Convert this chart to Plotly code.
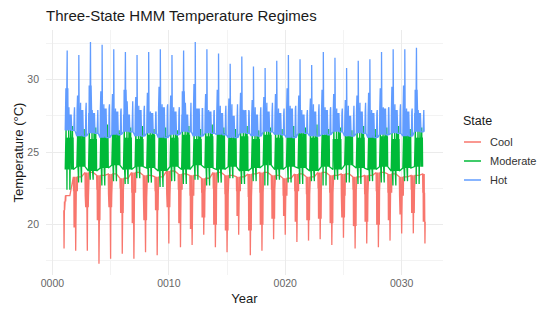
import plotly.graph_objects as go

# ---- data: yearly levels of each regime (°C) ----
# full years carrying a hot-season peak
hot_years = list(range(1, 32))
hot_peak = [32.0, 31.7, 32.6, 32.4, 32.1, 31.9, 31.7, 31.9, 32.1, 31.7, 32.0, 32.6, 32.1, 31.8, 31.1, 31.6,
            30.9, 30.8, 31.3, 31.7, 31.4, 31.0, 31.9, 31.5, 30.8, 31.3, 31.4, 31.9, 32.1, 32.1, 32.2]
hot_upper = [29.4, 28.9, 29.6, 29.2, 29.0, 29.3, 28.8, 29.1, 29.5, 28.9, 29.2, 29.7, 29.0, 29.3, 28.7, 29.1,
             28.6, 28.8, 29.0, 29.4, 28.9, 28.7, 29.3, 29.0, 28.6, 28.9, 29.1, 29.4, 29.5, 29.6, 29.3]
hot_mid = [27.6, 27.9, 27.7, 28.0, 27.8, 27.6, 27.9, 27.7, 28.1, 27.8, 27.6, 28.0, 27.8, 27.7, 27.5, 27.9,
           27.6, 27.8, 27.7, 28.0, 27.6, 27.8, 27.9, 27.7, 27.5, 27.8, 27.7, 28.0, 27.9, 27.8, 27.7]
hot_base = [26.5, 26.1, 26.3, 26.0, 26.2, 26.4, 26.1, 26.3, 26.0, 26.2, 26.4, 26.1, 26.3, 26.2, 26.0, 26.3,
            26.1, 26.4, 26.2, 26.0, 26.3, 26.1, 26.2, 26.4, 26.1, 26.3, 26.0, 26.2, 26.3, 26.1, 26.4]
hot_bump = [28.1, 28.4, 27.9, 28.3, 28.0, 28.5, 28.2, 27.8, 28.3, 28.1, 28.4, 28.0, 27.9, 28.2, 28.3, 27.8,
            28.1, 28.4, 28.0, 28.2, 27.9, 28.3, 28.1, 28.0, 28.2, 28.4, 27.9, 28.1, 28.3, 28.0, 27.9]

mod_years = list(range(1, 32))
mod_max = [26.8, 26.6, 26.7, 26.9, 26.5, 26.7, 26.8, 26.6, 26.7, 26.5, 26.8, 26.6, 26.9, 26.7, 26.6, 26.8,
           26.5, 26.7, 26.6, 26.8, 26.7, 26.9, 26.6, 26.7, 26.5, 26.8, 26.6, 26.7, 26.8, 26.6, 26.7]
mod_hi = [26.0, 26.2, 25.9, 26.1, 26.3, 26.0, 25.9, 26.2, 26.1, 26.0, 26.2, 25.9, 26.1, 26.3, 26.0, 26.1,
          25.9, 26.2, 26.0, 26.1, 26.3, 26.0, 26.2, 25.9, 26.1, 26.0, 26.2, 26.1, 25.9, 26.2, 26.0]
mod_mid = [25.0, 24.7, 25.2, 24.9, 25.1, 24.8, 25.3, 24.9, 25.0, 24.6, 25.2, 24.8, 25.0, 25.1, 24.7, 25.2,
           24.9, 25.0, 24.8, 25.3, 24.9, 25.1, 24.7, 25.0, 25.2, 24.8, 25.0, 24.9, 25.1, 24.8, 25.0]
mod_lo = [23.8, 24.0, 23.7, 23.9, 24.1, 23.8, 24.0, 23.9, 23.7, 24.0, 23.8, 24.1, 23.9, 23.8, 24.0, 23.7,
          23.9, 24.1, 23.8, 24.0, 23.9, 23.7, 24.0, 23.8, 24.1, 23.9, 23.8, 24.0, 23.7, 23.9, 24.0]
mod_min = [22.4, 22.9, 23.1, 22.7, 23.0, 22.8, 23.2, 22.9, 22.6, 23.0, 22.8, 23.1, 22.7, 22.9, 23.2, 22.8,
           23.0, 22.7, 23.1, 22.9, 22.8, 23.0, 22.7, 23.1, 22.9, 22.8, 23.0, 22.9, 22.7, 23.0, 22.8]

# cold spells fall at the turn of each year, the last one closes the record
cool_years = list(range(1, 33))
cool_trough = [18.35, 18.2, 18.2, 17.3, 17.65, 18.0, 17.65, 18.1, 17.9, 18.7, 18.45, 18.6, 19.3, 18.45, 18.1, 19.3,
               17.9, 18.2, 19.0, 19.3, 18.8, 18.9, 19.0, 18.6, 19.1, 18.35, 18.7, 18.45, 18.9, 19.4, 19.4, 18.7]
cool_low = [21.0, 19.8, 21.2, 20.3, 21.2, 20.8, 20.1, 20.3, 21.0, 21.2, 20.1, 19.7, 20.5, 20.0, 19.6, 20.6,
            19.6, 20.0, 20.4, 20.6, 20.2, 20.3, 20.4, 20.1, 20.5, 19.9, 20.2, 20.0, 20.3, 20.7, 20.8, 20.2]
cool_mid = [21.6, 22.3, 22.0, 22.4, 22.1, 22.5, 22.2, 21.9, 22.3, 22.1, 22.4, 22.0, 22.2, 22.5, 22.1, 22.3,
            21.9, 22.2, 22.4, 22.0, 22.3, 22.1, 22.5, 22.2, 22.0, 22.4, 22.1, 22.3, 22.2, 22.0, 22.4, 22.2]
cool_top = [22.0, 23.3, 23.6, 23.4, 23.5, 23.2, 23.6, 23.4, 23.3, 23.7, 23.5, 23.4, 23.2, 23.6, 23.4, 23.3,
            23.5, 23.6, 23.4, 23.2, 23.5, 23.3, 23.6, 23.4, 23.5, 23.3, 23.4, 23.6, 23.5, 23.3, 23.4, 23.5]

record_start = 0.97
record_end = 32.02

# ---- order in which each regime visits its levels within a year ----
cool_path = [(-0.20, "top"), (-0.18, "mid"), (-0.16, "top"), (-0.14, "low"), (-0.12, "top"), (-0.10, "mid"),
             (-0.08, "low"), (-0.065, "top"), (-0.05, "low"), (-0.035, "mid"), (-0.02, "low"),
             (0.0, "trough"), (0.02, "low"), (0.035, "mid"), (0.05, "low"), (0.065, "top"), (0.08, "low"),
             (0.10, "mid"), (0.12, "top"), (0.14, "mid"), (0.16, "top"), (0.5, "top")]
mod_keys = ["lo", "hi", "mid", "max", "lo", "hi", "min", "hi", "lo", "mid", "hi", "lo", "max", "mid",
            "lo", "hi", "min", "hi", "lo", "max", "mid", "hi", "lo", "hi", "mid", "max", "lo", "hi", "lo"]
mod_path = [(0.10 + 0.025 * i, k) for i, k in enumerate(mod_keys)]
hot_path = [(0.10, "base"), (0.12, "mid"), (0.14, "base"), (0.16, "upper"), (0.18, "mid"), (0.20, "base"),
            (0.215, "upper"), (0.23, "mid"), (0.245, "upper"), (0.26, "mid"), (0.27, "peak"), (0.28, "mid"),
            (0.295, "upper"), (0.31, "base"), (0.325, "upper"), (0.34, "mid"), (0.36, "base"), (0.38, "mid"),
            (0.40, "base"), (0.42, "bump"), (0.44, "base"), (0.47, "mid"), (0.50, "base"), (0.53, "mid"),
            (0.57, "base"), (0.61, "mid"), (0.66, "base"), (0.84, "base"), (0.87, "mid"), (0.90, "bump"),
            (0.93, "base")]


def build(years, path, levels):
    xs, ys = [], []
    for i, yr in enumerate(years):
        for dx, key in path:
            x = yr + dx
            if x < record_start or x > record_end:
                continue
            xs.append(x)
            ys.append(levels[key][i])
    return xs, ys


states = ["Cool", "Moderate", "Hot"]
series = {
    "Cool": build(cool_years, cool_path,
                  {"top": cool_top, "mid": cool_mid, "low": cool_low, "trough": cool_trough}),
    "Moderate": build(mod_years, mod_path,
                      {"max": mod_max, "hi": mod_hi, "mid": mod_mid, "lo": mod_lo, "min": mod_min}),
    "Hot": build(hot_years, hot_path,
                 {"peak": hot_peak, "upper": hot_upper, "mid": hot_mid, "base": hot_base, "bump": hot_bump}),
}
colors = {"Cool": "#F8766D", "Moderate": "#00BA38", "Hot": "#619CFF"}

fig = go.Figure()
for state in states:
    xs, ys = series[state]
    fig.add_trace(go.Scatter(x=xs, y=ys, mode="lines", name=state, showlegend=False,
                             line=dict(color=colors[state], width=1.3)))

font = "Liberation Sans"
grid_major = "#EBEBEB"
grid_minor = "#F3F3F3"

# plot area in pixels, used to place the title and the legend beside the panel
W, H = 548, 333
L, R, T, B = 46, 105, 30, 58
pw, ph = W - L - R, H - T - B


def px_x(x):
    return (x - L) / pw


def px_y(y):
    return 1 - (y - T) / ph


annotations = [
    dict(text="State", xref="paper", yref="paper", x=px_x(461), y=px_y(121),
         xanchor="left", yanchor="middle", showarrow=False, font=dict(size=12.5, color="#1a1a1a")),
]
shapes = []
for i, state in enumerate(states):
    yc = 142 + 19 * i
    shapes.append(dict(type="line", xref="paper", yref="paper", x0=px_x(464), x1=px_x(481),
                       y0=px_y(yc), y1=px_y(yc), line=dict(color=colors[state], width=1.5)))
    annotations.append(dict(text=state, xref="paper", yref="paper", x=px_x(488), y=px_y(yc),
                            xanchor="left", yanchor="middle", showarrow=False,
                            font=dict(size=11, color="#333333")))

fig.update_layout(
    width=W, height=H,
    margin=dict(l=L, r=R, t=T, b=B),
    paper_bgcolor="white", plot_bgcolor="white",
    font=dict(family=font, color="#333333"),
    title=dict(text="Three-State HMM Temperature Regimes", xref="container", x=L / W, xanchor="left",
               yref="container", y=1 - 15.5 / H, yanchor="middle",
               font=dict(family=font, size=15, color="#1a1a1a")),
    annotations=annotations, shapes=shapes,
    showlegend=False,
)
fig.update_xaxes(
    range=[-0.55, 33.55], tick0=0, dtick=10, tickformat="04d",
    showgrid=True, gridcolor=grid_major, gridwidth=1, zeroline=False, showline=False,
    minor=dict(tick0=0, dtick=5, showgrid=True, gridcolor=grid_minor, gridwidth=0.6),
    tickfont=dict(size=10.5, color="#666666"),
    title=dict(text="Year", font=dict(size=13, color="#1a1a1a"), standoff=6),
)
fig.update_yaxes(
    range=[16.53, 33.42], tick0=0, dtick=5,
    showgrid=True, gridcolor=grid_major, gridwidth=1, zeroline=False, showline=False,
    minor=dict(tick0=0, dtick=2.5, showgrid=True, gridcolor=grid_minor, gridwidth=0.6),
    tickfont=dict(size=10.5, color="#666666"), ticklabelstandoff=6,
    title=dict(text="Temperature (°C)", font=dict(size=13, color="#1a1a1a"), standoff=0),
)

fig.write_html("out.html")
